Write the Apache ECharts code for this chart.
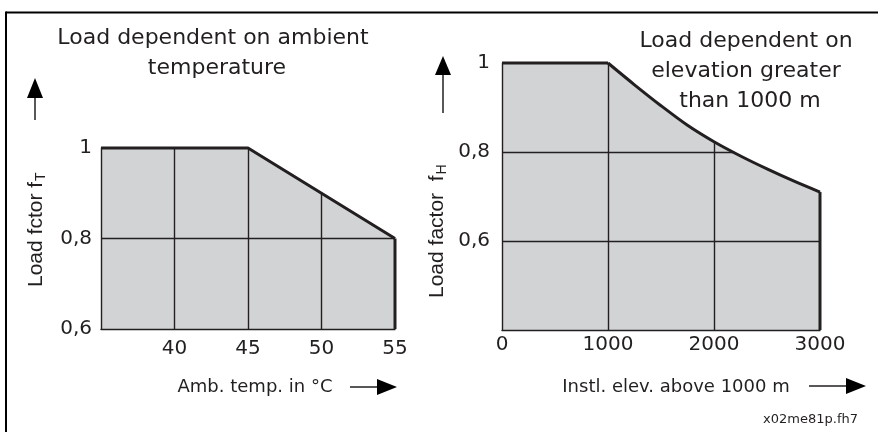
<!DOCTYPE html>
<html>
<head>
<meta charset="utf-8">
<script src="https://cdn.jsdelivr.net/npm/echarts@6/dist/echarts.min.js"></script>
<style>
  html, body { margin: 0; padding: 0; background: #fff; }
  #chart { width: 878px; height: 432px; }
</style>
</head>
<body>
<div id="chart"></div>
<script>
// ---- data ----
const tempTicks = [35, 40, 45, 50, 55];
const tempCurve = [[35, 1.0], [45, 1.0], [55, 0.8]];
const tempEdge = [[55, 0.8], [55, 0.6]];
const loadTicksT = [0.6, 0.8, 1.0];

const elevFlat = [[0, 1.0], [1000, 1.0]];
const elevCurve = [[1000, 1.0], [1250, 0.951], [1500, 0.904], [1750, 0.86], [2000, 0.823], [2250, 0.791], [2500, 0.762], [2750, 0.735], [3000, 0.71]];
const elevEdge = [[3000, 0.71], [3000, 0.4]];
const elevTicks = [0, 1000, 2000, 3000];
const loadTicksH = [0.4, 0.6, 0.8, 1.0];

// ---- style ----
const INK = '#231f20';
const FILL = '#d1d3d4';
const FONT = 'DejaVu Sans';
const FONT_R = 'Liberation Sans';

function yFmt(hidden) {
  return function (v) {
    if (Math.abs(v - hidden) < 1e-9) return '';
    if (Math.abs(v - 1) < 1e-9) return '1';
    return v.toFixed(1).replace('.', ',');
  };
}

const chart = echarts.init(document.getElementById('chart'), null, { renderer: 'canvas' });

const axisCommon = {
  type: 'value',
  axisTick: { show: false },
  axisLine: { show: true, lineStyle: { color: INK, width: 1.4 } },
  splitLine: { show: true, showMinLine: false, showMaxLine: false, lineStyle: { color: INK, width: 1.4 } }
};

function txt(x, y, text, size, align, extra) {
  return Object.assign({ type: 'text', x: x, y: y, z: 100,
    style: { text: text, fontSize: size, fontFamily: FONT, fill: INK, align: align, verticalAlign: 'middle', textAlign: align, textVerticalAlign: 'middle' } }, extra || {});
}

const option = {
  animation: false,
  backgroundColor: '#fff',
  grid: [
    { left: 101, top: 148, width: 294, height: 181, show: true, backgroundColor: FILL, borderWidth: 0 },
    { left: 502, top: 63, width: 318, height: 267, show: true, backgroundColor: FILL, borderWidth: 0 }
  ],
  xAxis: [
    Object.assign({}, axisCommon, {
      gridIndex: 0, min: tempTicks[0], max: tempTicks[tempTicks.length - 1], interval: 5,
      axisLabel: { margin: 10, color: INK, fontSize: 20, fontFamily: FONT,
        formatter: v => (v === tempTicks[0] ? '' : String(v)) }
    }),
    Object.assign({}, axisCommon, {
      gridIndex: 1, min: elevTicks[0], max: elevTicks[elevTicks.length - 1], interval: 1000,
      axisLabel: { margin: 5, color: INK, fontSize: 20, fontFamily: FONT, formatter: v => String(v) }
    })
  ],
  yAxis: [
    Object.assign({}, axisCommon, {
      gridIndex: 0, min: loadTicksT[0], max: loadTicksT[loadTicksT.length - 1], interval: 0.2,
      axisLabel: { margin: 9, color: INK, fontSize: 20, fontFamily: FONT, formatter: yFmt(-1) }
    }),
    Object.assign({}, axisCommon, {
      gridIndex: 1, min: loadTicksH[0], max: loadTicksH[loadTicksH.length - 1], interval: 0.2,
      axisLabel: { margin: 12, color: INK, fontSize: 20, fontFamily: FONT, formatter: yFmt(loadTicksH[0]) }
    })
  ],
  series: [
    { type: 'line', xAxisIndex: 0, yAxisIndex: 0, data: tempCurve, showSymbol: false, clip: false,
      lineStyle: { color: INK, width: 3, join: 'round' },
      areaStyle: { color: '#ffffff', opacity: 1, origin: 'end' } },
    { type: 'line', xAxisIndex: 0, yAxisIndex: 0, data: tempEdge, showSymbol: false, clip: false,
      lineStyle: { color: INK, width: 3 } },
    { type: 'line', xAxisIndex: 1, yAxisIndex: 1, data: elevFlat, showSymbol: false, clip: false,
      lineStyle: { color: INK, width: 3 } },
    { type: 'line', xAxisIndex: 1, yAxisIndex: 1, data: elevCurve, showSymbol: false, clip: false,
      smooth: 0.3,
      lineStyle: { color: INK, width: 3, join: 'round' },
      areaStyle: { color: '#ffffff', opacity: 1, origin: 'end' } },
    { type: 'line', xAxisIndex: 1, yAxisIndex: 1, data: elevEdge, showSymbol: false, clip: false,
      lineStyle: { color: INK, width: 3 } }
  ],
  graphic: [
    // frame (top and left borders)
    { type: 'line', z: 100, shape: { x1: 6, y1: 12.5, x2: 878, y2: 12.5 }, style: { stroke: '#000', lineWidth: 2 } },
    { type: 'line', z: 100, shape: { x1: 6, y1: 11.5, x2: 6, y2: 432 }, style: { stroke: '#000', lineWidth: 2 } },

    // titles
    txt(213, 38.5, 'Load dependent on ambient', 22, 'center'),
    txt(217, 68.5, 'temperature', 22, 'center'),
    txt(746, 41.5, 'Load dependent on', 22, 'center'),
    txt(746, 71.5, 'elevation greater', 22, 'center'),
    txt(750, 101.5, 'than 1000 m', 22, 'center'),

    // axis names
    txt(255, 387, 'Amb. temp. in °C', 18, 'center'),
    txt(676, 387, 'Instl. elev. above 1000 m', 18, 'center'),

    // rotated y-axis names with subscripts
    { type: 'text', x: 36, y: 287, rotation: Math.PI / 2, z: 100,
      style: { text: '{a|Load fctor f}{b|T}', fill: INK, align: 'left', verticalAlign: 'middle', textAlign: 'left', textVerticalAlign: 'middle',
        rich: { a: { fontSize: 21, fontFamily: FONT_R, fill: INK }, b: { fontSize: 14, fontFamily: FONT_R, fill: INK, padding: [10, 0, 0, 1] } } } },
    { type: 'text', x: 437, y: 298, rotation: Math.PI / 2, z: 100,
      style: { text: '{a|Load factor  f}{b|H}', fill: INK, align: 'left', verticalAlign: 'middle', textAlign: 'left', textVerticalAlign: 'middle',
        rich: { a: { fontSize: 21, fontFamily: FONT_R, fill: INK }, b: { fontSize: 14, fontFamily: FONT_R, fill: INK, padding: [10, 0, 0, 1] } } } },

    // arrows
    { type: 'line', z: 100, shape: { x1: 35, y1: 120, x2: 35, y2: 96 }, style: { stroke: INK, lineWidth: 1.5 } },
    { type: 'polygon', z: 100, shape: { points: [[27, 98], [35, 78], [43, 98]] }, style: { fill: '#000' } },
    { type: 'line', z: 100, shape: { x1: 443, y1: 113, x2: 443, y2: 73 }, style: { stroke: INK, lineWidth: 1.5 } },
    { type: 'polygon', z: 100, shape: { points: [[435, 75], [443, 56], [451, 75]] }, style: { fill: '#000' } },
    { type: 'line', z: 100, shape: { x1: 350, y1: 387, x2: 379, y2: 387 }, style: { stroke: INK, lineWidth: 1.5 } },
    { type: 'polygon', z: 100, shape: { points: [[377, 379], [397, 387], [377, 395]] }, style: { fill: '#000' } },
    { type: 'line', z: 100, shape: { x1: 809, y1: 386, x2: 848, y2: 386 }, style: { stroke: INK, lineWidth: 1.5 } },
    { type: 'polygon', z: 100, shape: { points: [[846, 378], [866, 386], [846, 394]] }, style: { fill: '#000' } },

    // footer
    txt(858, 420, 'x02me81p.fh7', 13, 'right')
  ]
};

chart.setOption(option);
</script>
</body>
</html>
